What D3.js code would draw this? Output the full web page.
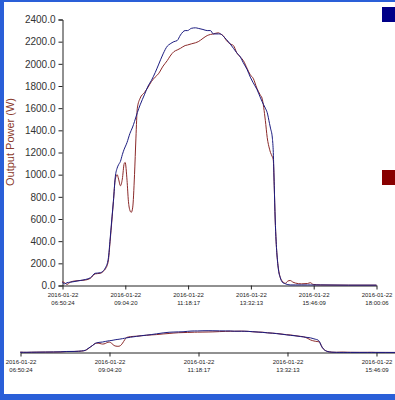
<!DOCTYPE html>
<html>
<head>
<meta charset="utf-8">
<script src="https://cdn.jsdelivr.net/npm/d3@7"></script>
<style>
body { margin: 0; background: #fff; overflow: hidden; }
text { font-family: "Liberation Sans", Arial, sans-serif; }
</style>
</head>
<body>
<script>
//Width and height
var width = 395;
var height = 400;

var day = "2016-01-22";

// sample times (clock) and output power of both inverters
var times = ["06:50","06:55","07:00","07:07","07:15","07:28","07:40","07:50","08:00","08:11",
	"08:18","08:22","08:28","08:32","08:36","08:39","08:43","08:47","08:50","08:54",
	"08:58","09:02","09:04","09:08","09:11","09:14","09:17","09:20","09:24","09:27",
	"09:30","09:36","09:45","09:53","10:00","10:08","10:15","10:25","10:34","10:40",
	"10:48","10:55","11:02","11:12","11:17","11:25","11:34","11:40","11:50","11:59",
	"12:06","12:12","12:23","12:27","12:33","12:40","12:48","12:55","13:02","13:10",
	"13:16","13:24","13:31","13:37","13:45","13:52","13:56","14:03","14:07","14:12",
	"14:14","14:18","14:20","14:22","14:24","14:26","14:29","14:31","14:35","14:39",
	"14:46","14:51","14:56","15:02","15:07","15:20","15:33","15:39","15:45","16:00",
	"17:00","18:00"];

var powerBlue = [30,15,25,30,35,45,55,70,110,115,
	135,160,240,420,620,760,980,1060,1090,1120,
	1180,1230,1250,1290,1330,1370,1400,1430,1480,1520,
	1560,1630,1720,1800,1850,1920,1990,2090,2160,2180,
	2200,2210,2260,2300,2300,2320,2325,2320,2310,2300,
	2300,2270,2270,2270,2250,2220,2180,2140,2100,2060,
	2010,1950,1880,1830,1770,1700,1660,1600,1560,1460,
	1420,1330,1200,900,600,400,220,140,70,30,
	15,8,5,5,5,5,5,5,5,5,
	3,3];

var powerRed = [35,25,10,30,40,45,50,65,105,110,
	130,150,220,400,600,760,960,1000,960,900,
	960,1100,1110,950,760,680,660,700,1000,1330,
	1600,1690,1740,1790,1840,1880,1910,1980,2030,2070,
	2110,2125,2140,2165,2170,2180,2190,2200,2230,2255,
	2265,2270,2280,2270,2255,2210,2180,2165,2100,2060,
	2030,1960,1900,1870,1780,1720,1690,1490,1335,1230,
	1200,1160,1130,900,600,400,220,150,70,40,
	20,40,45,30,22,15,18,25,10,5,
	3,3];

var yTicks = [0,200,400,600,800,1000,1200,1400,1600,1800,2000,2200,2400];
var xTicks = ["06:50:24","09:04:20","11:18:17","13:32:13","15:46:09","18:00:06"];

var parseTime = d3.timeParse("%Y-%m-%d %H:%M:%S");
var data = times.map(function(t, i){
	'use strict';
	return {t: parseTime(day + " " + t + ":00"), blue: powerBlue[i], red: powerRed[i]};
});
var tickDates = xTicks.map(function(t){
	'use strict';
	return parseTime(day + " " + t);
});

//Create SVG element
var svg = d3.select("body")
	.append("svg")
	.attr("width", width)
	.attr("height", height);

// window frame (blue border)
svg.append("rect").attr("x", 0).attr("y", 0).attr("width", width).attr("height", 2).attr("fill", "#2a5fd8");
svg.append("rect").attr("x", 0).attr("y", 0).attr("width", 4).attr("height", height).attr("fill", "#2a5fd8");
svg.append("rect").attr("x", 0).attr("y", 394).attr("width", width).attr("height", 6).attr("fill", "#2a5fd8");

// main chart scales
var x = d3.scaleTime()
	.domain([tickDates[0], tickDates[5]])
	.range([62.5, 376.5]);
var y = d3.scaleLinear()
	.domain([0, 2400])
	.range([285.5, 19.5]);

// overview scales (wider than the window, gets cut off)
var x2 = d3.scaleTime()
	.domain([tickDates[0], tickDates[5]])
	.range([20.5, 465.5]);
var y2 = d3.scaleLinear()
	.domain([0, 2400])
	.range([352.5, 330]);

// y axis
var yAxis = svg.append("g")
	.attr("transform", "translate(62.5,0)")
	.call(d3.axisLeft(y).tickValues(yTicks).tickSize(4).tickPadding(3).tickFormat(d3.format(".1f")));
yAxis.selectAll("text").attr("font-size", 10).attr("fill", "#333");
yAxis.selectAll("line, path").attr("stroke", "#222");

// x axis labels on two lines: date, then time
function twoLines(sel){
	'use strict';
	sel.selectAll("text").remove();
	sel.selectAll(".tick").each(function(d){
		var t = d3.select(this).append("text")
			.attr("fill", "#222")
			.attr("font-size", 6)
			.attr("text-anchor", "middle");
		t.append("tspan").attr("x", 0).attr("y", 11).text(day);
		t.append("tspan").attr("x", 0).attr("y", 19).text(d3.timeFormat("%H:%M:%S")(d));
	});
	sel.selectAll("line, path").attr("stroke", "#222");
}

svg.append("g")
	.attr("transform", "translate(0,285.5)")
	.call(d3.axisBottom(x).tickValues(tickDates).tickSize(4).tickSizeOuter(0))
	.call(twoLines);

// y axis title
svg.append("text")
	.attr("transform", "translate(14,142) rotate(-90)")
	.attr("text-anchor", "middle")
	.attr("font-size", 11)
	.attr("fill", "#8b3a2a")
	.text("Output Power (W)");

// lines of the main chart
var lineBlue = d3.line().x(function(d){ 'use strict'; return x(d.t); }).y(function(d){ 'use strict'; return y(d.blue); }).curve(d3.curveMonotoneX);
var lineRed = d3.line().x(function(d){ 'use strict'; return x(d.t); }).y(function(d){ 'use strict'; return y(d.red); }).curve(d3.curveMonotoneX);

svg.append("path").datum(data).attr("d", lineRed)
	.attr("fill", "none").attr("stroke", "#8b2a2a").attr("stroke-width", 1);
svg.append("path").datum(data).attr("d", lineBlue)
	.attr("fill", "none").attr("stroke", "#1c1c80").attr("stroke-width", 1);

// legend squares
svg.append("rect").attr("x", 382).attr("y", 7).attr("width", 16).attr("height", 15).attr("fill", "#000088");
svg.append("rect").attr("x", 382).attr("y", 170).attr("width", 16).attr("height", 15).attr("fill", "#880000");

// overview chart (last tick falls outside the window)
svg.append("g")
	.attr("transform", "translate(0,352.5)")
	.call(d3.axisBottom(x2).tickValues(tickDates.slice(0, 5)).tickSize(4).tickSizeOuter(0))
	.call(twoLines);

var lineBlue2 = d3.line().x(function(d){ 'use strict'; return x2(d.t); }).y(function(d){ 'use strict'; return y2(d.blue); }).curve(d3.curveMonotoneX);
var lineRed2 = d3.line().x(function(d){ 'use strict'; return x2(d.t); }).y(function(d){ 'use strict'; return y2(d.red); }).curve(d3.curveMonotoneX);

svg.append("path").datum(data).attr("d", lineRed2)
	.attr("fill", "none").attr("stroke", "#8b2a2a").attr("stroke-width", 1);
svg.append("path").datum(data).attr("d", lineBlue2)
	.attr("fill", "none").attr("stroke", "#1c1c80").attr("stroke-width", 1);
</script>
</body>
</html>
